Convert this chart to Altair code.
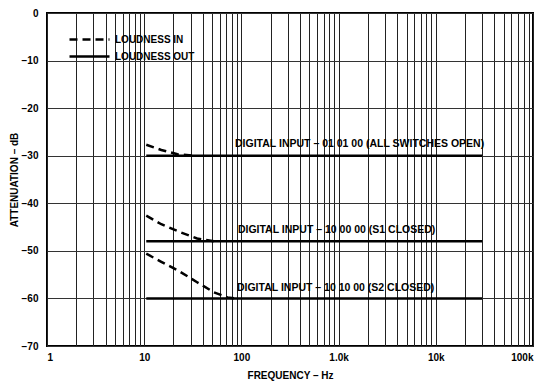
import altair as alt
import pandas as pd

# ---- data ----
out_freq = [10.5, 30000]
out_levels = [-30, -48, -60]

in1_freq = [10.5, 15, 22, 33]
in1_db = [-27.7, -28.8, -29.7, -30.0]
in2_freq = [10.5, 15, 23, 35, 52]
in2_db = [-42.6, -44.4, -46.0, -47.4, -48.0]
in3_freq = [10.5, 15, 23, 35, 52, 72, 85]
in3_db = [-50.6, -52.3, -54.3, -56.6, -58.7, -59.8, -60.0]

label_texts = [
    "DIGITAL INPUT \u2013 01 01 00 (ALL SWITCHES OPEN)",
    "DIGITAL INPUT \u2013 10 00 00 (S1 CLOSED)",
    "DIGITAL INPUT \u2013 10 10 00 (S2 CLOSED)",
]
label_freq = [86, 92, 90]
label_db = [-27.6, -45.7, -57.8]

decades = [1, 10, 100, 1000, 10000, 100000]
decade_labels = ["1", "10", "100", "1.0k", "10k", "100k"]
y_ticks = [0, -10, -20, -30, -40, -50, -60, -70]

# ---- build table ----
rows = []
for i, lvl in enumerate(out_levels):
    for f in out_freq:
        rows.append({"f": f, "db": lvl, "series": "LOUDNESS OUT", "grp": f"out{i}"})
for gi, (fs, ds) in enumerate([(in1_freq, in1_db), (in2_freq, in2_db), (in3_freq, in3_db)]):
    for f, d in zip(fs, ds):
        rows.append({"f": f, "db": d, "series": "LOUDNESS IN", "grp": f"in{gi}"})
df = pd.DataFrame(rows)
lab = pd.DataFrame({"t": label_texts, "f": label_freq, "db": label_db})

grid_vals = []
for d in decades[:-1]:
    grid_vals += [d * k for k in range(1, 10)]
grid_vals.append(decades[-1])

arr_vals = "[" + ",".join(str(v) for v in decades) + "]"
arr_labs = "[" + ",".join(f"'{s}'" for s in decade_labels) + "]"
label_expr = (f"indexof({arr_vals}, datum.value) >= 0 ? "
              f"{arr_labs}[round(log(datum.value)/LN10)] : ''")

FONT = "Liberation Sans"

xscale = alt.Scale(type="log", domain=[1, 100000], nice=False)
yscale = alt.Scale(domain=[-70, 0], nice=False)

xaxis = alt.Axis(values=grid_vals, labelExpr=label_expr, title="FREQUENCY \u2013 Hz",
                 grid=True, gridColor="#222", gridWidth=1, gridOpacity=1,
                 ticks=False, domain=False, labelFont=FONT, labelFontWeight="bold",
                 labelFontSize=10, labelColor="black", labelPadding=6,
                 labelOverlap=False, labelFlush=True, titleFont=FONT,
                 titleFontWeight="bold", titleFontSize=10, titleColor="black",
                 titlePadding=8)
yaxis = alt.Axis(values=y_ticks, title="ATTENUATION \u2013 dB", grid=True,
                 gridColor="#333", gridWidth=1, gridOpacity=1, ticks=False,
                 domain=False, labelFont=FONT, labelFontWeight="bold",
                 labelFontSize=10, labelColor="black", labelPadding=9,
                 titleFont=FONT, titleFontWeight="bold", titleFontSize=10,
                 titleColor="black", titlePadding=2)

lines = alt.Chart(df).mark_line(color="black", strokeWidth=2.5).encode(
    x=alt.X("f:Q", scale=xscale, axis=xaxis),
    y=alt.Y("db:Q", scale=yscale, axis=yaxis),
    detail="grp:N",
    strokeDash=alt.StrokeDash(
        "series:N",
        scale=alt.Scale(domain=["LOUDNESS IN", "LOUDNESS OUT"],
                        range=[[8, 5], [1, 0]]),
        legend=alt.Legend(title=None, orient="none", legendX=21, legendY=18,
                          symbolType="stroke", symbolSize=1600,
                          symbolStrokeWidth=2.5, symbolStrokeColor="black",
                          clipHeight=17, rowPadding=0, labelFont=FONT,
                          labelFontWeight="bold", labelFontSize=10,
                          labelColor="black", labelOffset=4, padding=0),
    ),
)

texts = alt.Chart(lab).mark_text(align="left", baseline="middle", font=FONT,
                                 fontWeight="bold", fontSize=10.5, color="black").encode(
    x=alt.X("f:Q", scale=xscale),
    y=alt.Y("db:Q", scale=yscale),
    text="t:N",
)

chart = alt.layer(lines, texts).properties(
    width=486, height=333,
    autosize=alt.AutoSizeParams(type="none"),
    padding={"left": 39, "top": 5, "right": 2, "bottom": 38},
    background="white",
).configure_view(stroke="black", strokeWidth=2)

chart.save("out.html", embed_options={"renderer": "svg", "actions": False})
